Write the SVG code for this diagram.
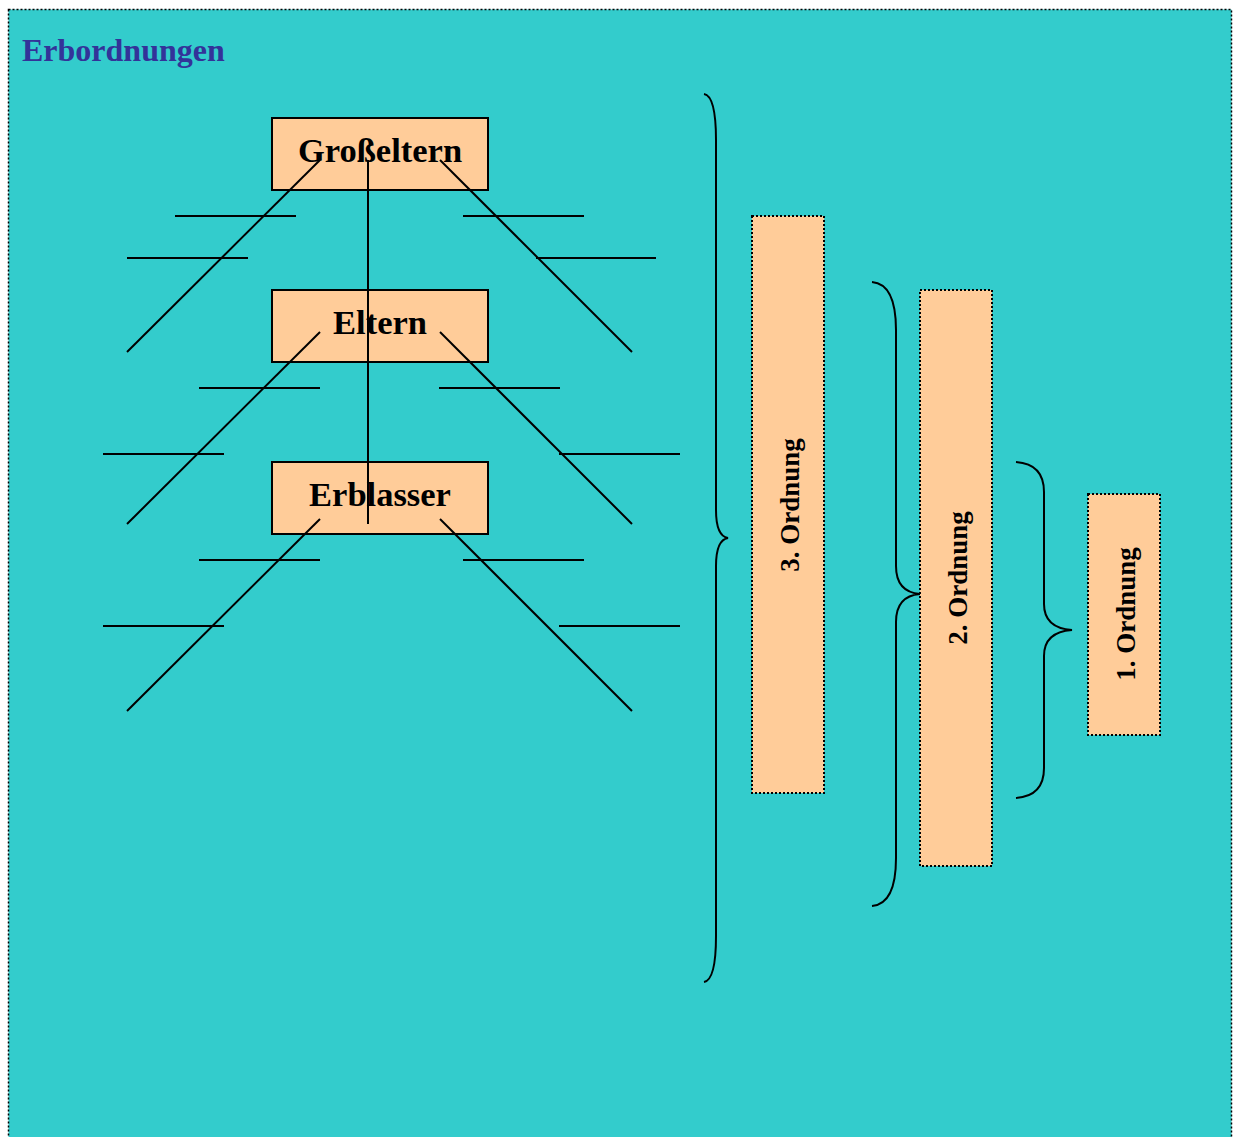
<svg xmlns="http://www.w3.org/2000/svg" width="1238" height="1137" viewBox="0 0 1238 1137">
<style>
.frame{fill:#33CCCC;stroke:#000;stroke-width:1.5;stroke-dasharray:2,2}
.box{fill:#FFCC99;stroke:#000;stroke-width:2}
.obox{fill:#FFCC99;stroke:#000;stroke-width:2;stroke-dasharray:2,2}
.lbl{font-family:"Liberation Serif","Times New Roman",serif;font-weight:bold;font-size:34.5px;fill:#000;text-anchor:middle}
.olbl{font-family:"Liberation Serif","Times New Roman",serif;font-weight:bold;font-size:27px;fill:#000;text-anchor:middle}
.ln{stroke:#000;stroke-width:2;fill:none}
.br{stroke:#000;stroke-width:2;fill:none}
</style>
<rect class="frame" x="8.5" y="9.5" width="1223" height="1140"/>
<text x="22" y="61" font-family="'Liberation Serif','Times New Roman',serif" font-weight="bold" font-size="32" fill="#333399">Erbordnungen</text>

<g id="n-grosseltern"><rect class="box" x="272" y="118" width="216" height="72"/><text class="lbl" x="380" y="162">Großeltern</text></g>
<g id="n-eltern"><rect class="box" x="272" y="290" width="216" height="72"/><text class="lbl" x="380" y="334">Eltern</text></g>
<g id="n-erblasser"><rect class="box" x="272" y="462" width="216" height="72"/><text class="lbl" x="380" y="506">Erblasser</text></g>

<g id="connectors">
<line class="ln" x1="368" y1="160" x2="368" y2="524"/>
<line class="ln" x1="320" y1="160" x2="127" y2="352"/>
<line class="ln" x1="440" y1="160" x2="632" y2="352"/>
<line class="ln" x1="175" y1="216" x2="296" y2="216"/>
<line class="ln" x1="127" y1="258" x2="248" y2="258"/>
<line class="ln" x1="463" y1="216" x2="584" y2="216"/>
<line class="ln" x1="536" y1="258" x2="656" y2="258"/>
<line class="ln" x1="320" y1="332" x2="127" y2="524"/>
<line class="ln" x1="440" y1="332" x2="632" y2="524"/>
<line class="ln" x1="199" y1="388" x2="320" y2="388"/>
<line class="ln" x1="103" y1="454" x2="224" y2="454"/>
<line class="ln" x1="439" y1="388" x2="560" y2="388"/>
<line class="ln" x1="559" y1="454" x2="680" y2="454"/>
<line class="ln" x1="320" y1="519" x2="127" y2="711"/>
<line class="ln" x1="440" y1="519" x2="632" y2="711"/>
<line class="ln" x1="199" y1="560" x2="320" y2="560"/>
<line class="ln" x1="103" y1="626" x2="224" y2="626"/>
<line class="ln" x1="463" y1="560" x2="584" y2="560"/>
<line class="ln" x1="559" y1="626" x2="680" y2="626"/>
</g>

<g id="braces">
<path class="br" d="M704,94 Q716,96 716,140 L716,510 Q716,536 728,538 Q716,540 716,566 L716,936 Q716,980 704,982"/>
<path class="br" d="M872,282 Q896,284 896,330 L896,566 Q896,592 920,594 Q896,596 896,622 L896,858 Q896,904 872,906"/>
<path class="br" d="M1016,462 Q1044,464 1044,492 L1044,604 Q1044,628 1072,630 Q1044,632 1044,656 L1044,768 Q1044,796 1016,798"/>
</g>

<g id="n-ordnung3"><rect class="obox" x="752" y="216" width="72" height="577"/><text class="olbl" transform="translate(799,505) rotate(-90)">3. Ordnung</text></g>
<g id="n-ordnung2"><rect class="obox" x="920" y="290" width="72" height="576"/><text class="olbl" transform="translate(967,578) rotate(-90)">2. Ordnung</text></g>
<g id="n-ordnung1"><rect class="obox" x="1088" y="494" width="72" height="241"/><text class="olbl" transform="translate(1135,614) rotate(-90)">1. Ordnung</text></g>
</svg>
